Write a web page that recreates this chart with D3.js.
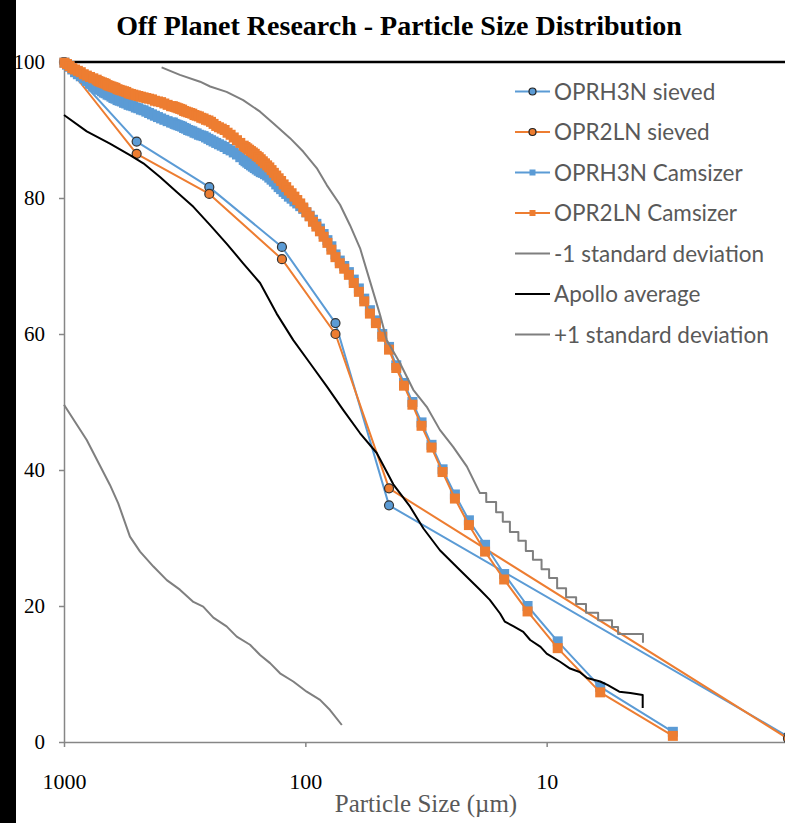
<!DOCTYPE html>
<html>
<head>
<meta charset="utf-8">
<script src="https://cdn.jsdelivr.net/npm/d3@7"></script>
<style>
body { margin: 0; background: #fff; }
.axis path, .axis line { stroke: #868686; stroke-width: 1.5; }
.axis text { font-family: "Liberation Serif", "Times New Roman", serif; fill: #000; }
</style>
</head>
<body>
<div id="chart"></div>
<script>
// sieve data (size in µm, cumulative % passing)
var sieveSizes = [1000, 500, 250, 125, 75, 45, 1];
var oprh3nSieved = [100, 88.3, 81.6, 72.8, 61.6, 34.8, 0.8];
var opr2lnSieved = [100, 86.5, 80.6, 71.0, 60.0, 37.3, 0.5];

// camsizer bins (µm)
var camSizes = [996, 972, 948, 924, 900, 876, 852, 828, 804, 780, 756, 732,
  720, 708, 696, 684, 672, 660, 648, 636, 624, 612, 600, 588, 576, 564, 552, 540, 528, 516, 504, 492, 480, 468, 456, 444, 432, 420, 408, 396, 384, 372, 360,
  354, 348, 342, 336, 330, 324, 318, 312, 306, 300, 294, 288, 282, 276, 270, 264, 258, 252, 246, 240, 234, 228, 222, 216, 210, 204, 198, 192, 186, 180,
  177, 174, 171, 168, 165, 162, 159, 156, 153, 150, 147, 144, 141, 138, 135, 132, 129, 126, 123, 120, 117, 114, 111, 108, 105, 102,
  99, 96, 93, 90, 87, 84, 81, 78, 75, 72, 69, 66, 63, 60, 57, 54, 51, 48, 45, 42, 39, 36, 33, 30, 27, 24, 21, 18, 15, 12, 9, 6, 3];
var oprh3nCam = [99.9, 99.6, 99.3, 98.9, 98.5, 98.2, 97.9, 97.6, 97.2, 96.8, 96.4, 96.2,
  96.0, 95.9, 95.7, 95.5, 95.4, 95.2, 95.1, 94.9, 94.7, 94.6, 94.4, 94.3, 94.2, 94.0, 93.9, 93.7, 93.6, 93.5, 93.3, 93.2, 93.0, 92.9, 92.7, 92.5, 92.3, 92.1, 91.9, 91.7, 91.5, 91.3, 91.1,
  91.1, 90.9, 90.8, 90.7, 90.6, 90.5, 90.3, 90.2, 90.0, 89.9, 89.8, 89.6, 89.5, 89.3, 89.2, 89.1, 88.9, 88.7, 88.5, 88.3, 88.1, 87.9, 87.7, 87.5, 87.2, 87.0, 86.7, 86.4, 86.0, 85.6,
  85.4, 85.2, 85.0, 84.8, 84.6, 84.4, 84.2, 84.0, 83.8, 83.7, 83.5, 83.3, 83.0, 82.7, 82.4, 82.0, 81.6, 81.3, 80.9, 80.6, 80.2, 79.9, 79.5, 79.2, 78.8, 78.4,
  77.9, 77.4, 76.8, 76.2, 75.5, 74.7, 73.8, 72.9, 71.7, 70.8, 70.0, 69.1, 68.0, 66.7, 65.2, 63.5, 62.0, 60.0, 58.1, 55.4, 52.8, 50.0, 47.0, 43.7, 40.1, 36.4, 32.6, 29.0, 24.7, 20.0, 14.8, 8.1, 1.5];
var opr2lnCam = [99.9, 99.7, 99.4, 99.1, 98.9, 98.7, 98.5, 98.2, 98.0, 97.8, 97.6, 97.4,
  97.2, 97.1, 97.0, 96.9, 96.8, 96.6, 96.5, 96.4, 96.3, 96.2, 96.0, 95.9, 95.8, 95.7, 95.6, 95.4, 95.3, 95.2, 95.1, 95.0, 94.9, 94.8, 94.7, 94.6, 94.5, 94.3, 94.2, 94.1, 93.9, 93.7, 93.5,
  93.5, 93.4, 93.3, 93.2, 93.1, 93.0, 92.8, 92.7, 92.6, 92.5, 92.4, 92.2, 92.1, 92.0, 91.8, 91.7, 91.5, 91.4, 91.2, 90.9, 90.6, 90.4, 90.2, 90.0, 89.6, 89.3, 88.9, 88.5, 88.1, 87.7,
  87.5, 87.3, 87.1, 86.9, 86.7, 86.5, 86.2, 86.0, 85.7, 85.4, 85.1, 84.8, 84.5, 84.1, 83.7, 83.3, 82.9, 82.5, 82.0, 81.6, 81.1, 80.7, 80.2, 79.7, 79.2, 78.6,
  77.9, 77.3, 76.5, 75.8, 75.1, 74.3, 73.4, 72.4, 71.3, 70.4, 69.6, 68.7, 67.5, 66.2, 64.8, 63.0, 61.6, 59.6, 57.7, 55.0, 52.4, 49.6, 46.5, 43.3, 39.7, 35.8, 31.9, 28.0, 23.9, 19.2, 13.8, 7.3, 0.9];

// Apollo lunar soil reference curves
var minusSizes = [1000, 805, 645, 596, 533, 484, 426, 375, 331, 291, 265, 240.5, 212, 192.4, 169.5, 154, 140, 127.3, 112.2, 98.7, 86.9, 79, 70.6];
var minusStd = [49.6, 44.4, 37.8, 35.1, 30.2, 28.0, 25.8, 23.8, 22.4, 20.6, 19.9, 18.3, 17.0, 15.5, 14.3, 12.8, 11.6, 10.1, 8.9, 7.4, 6.2, 4.7, 2.5];

var apolloSizes = [1000, 805, 645, 533, 469, 400, 341, 291, 248, 212, 181, 154, 131.5, 112.2, 95.6, 81.5, 69.6, 59.3, 50.6, 43.2, 36.8, 32.4,
  27.7, 22.9, 18.9, 17.2, 15.6, 14.9, 13.7, 12.5, 11.7, 10.6, 10.0, 8.8, 8.0, 7.3, 6.8, 6.0, 5.6, 5.0, 4.5, 4.0, 4.0];
var apolloAvg = [92.2, 89.8, 88.0, 86.3, 85.1, 83.1, 80.9, 78.7, 76.0, 73.3, 70.4, 67.5, 63.0, 59.1, 55.7, 52.3, 48.8, 45.4, 42.5, 37.9, 34.6, 31.4,
  28.2, 25.3, 22.4, 20.9, 18.9, 17.7, 17.0, 16.2, 15.0, 14.0, 13.0, 11.8, 10.8, 10.3, 9.4, 8.9, 8.4, 7.4, 7.2, 6.9, 5.0];

var plusSizes = [394, 331, 273, 248, 212, 181, 154, 135.8, 115.7, 101.9, 89.7, 81.5, 71.8, 65.3, 59.3, 53.9, 49.0, 46.0, 40.5, 35.7, 31.4, 27.7, 24.4, 21.4,
  18.9, 17.8, 17.8, 16.2, 16.2, 15.2, 15.2, 14.2, 14.2, 13.1, 13.1, 12.2, 12.2, 11.4, 11.4, 10.5, 10.5, 9.77, 9.77, 9.05, 9.05,
  8.31, 8.31, 7.55, 7.55, 6.87, 6.87, 6.12, 6.12, 5.36, 5.36, 5.06, 5.06, 3.99, 3.99];
var plusStd = [99.2, 98.1, 97.1, 96.4, 95.6, 94.4, 92.7, 91.0, 88.8, 86.8, 84.4, 81.9, 79.0, 76.0, 72.6, 67.7, 62.8, 59.1, 55.7, 51.8, 49.3, 45.9, 43.4, 40.5,
  36.6, 36.6, 35.3, 35.3, 33.8, 33.8, 32.4, 32.4, 30.9, 30.9, 29.6, 29.6, 28.1, 28.1, 26.8, 26.8, 25.4, 25.4, 24.1, 24.1, 22.6,
  22.6, 21.3, 21.3, 20.3, 20.3, 19.0, 19.0, 17.9, 17.9, 16.9, 16.9, 15.9, 15.9, 14.6];

var xTicks = [1000, 100, 10];
var yTicks = [0, 20, 40, 60, 80, 100];

var blue = "#5B9BD5", orange = "#ED7D31", gray = "#7F7F7F";

var legendItems = [
  {name: "OPRH3N sieved", color: blue, marker: "circle"},
  {name: "OPR2LN sieved", color: orange, marker: "circle"},
  {name: "OPRH3N Camsizer", color: blue, marker: "square"},
  {name: "OPR2LN Camsizer", color: orange, marker: "square"},
  {name: "-1 standard deviation", color: gray, marker: "none"},
  {name: "Apollo average", color: "#000", marker: "none"},
  {name: "+1 standard deviation", color: gray, marker: "none"}
];

var width = 785;
var height = 823;

var svg = d3.select("#chart").append("svg")
    .attr("width", width)
    .attr("height", height);

svg.append("rect").attr("width", width).attr("height", height).attr("fill", "#fff");
// dark strip along the left edge of the screenshot
svg.append("rect").attr("x", 0).attr("y", 0).attr("width", 16).attr("height", height).attr("fill", "#000");

var x = d3.scaleLog()
    .domain([1000, 1])
    .range([64, 788]);

var y = d3.scaleLinear()
    .domain([0, 100])
    .range([742, 62]);

// axes
var xAxis = d3.axisBottom(x)
    .tickValues(xTicks)
    .tickFormat(d3.format("d"))
    .tickSize(5)
    .tickSizeOuter(0)
    .tickPadding(26);

var gx = svg.append("g")
    .attr("class", "axis x")
    .attr("transform", "translate(0," + y(0) + ")")
    .call(xAxis);
gx.selectAll("text").style("font-size", "22px");

var yAxis = d3.axisLeft(y)
    .tickValues(yTicks)
    .tickSize(5)
    .tickSizeOuter(0)
    .tickPadding(14);

var gy = svg.append("g")
    .attr("class", "axis y")
    .attr("transform", "translate(" + x(1000) + ",0)")
    .call(yAxis);
gy.selectAll("text").style("font-size", "21px");

// black top border
svg.append("line")
    .attr("x1", x(1000) - 1).attr("x2", x(1))
    .attr("y1", y(100)).attr("y2", y(100))
    .attr("stroke", "#000")
    .attr("stroke-width", 2.5);

var line = d3.line()
    .x(function(d) { return x(d[0]); })
    .y(function(d) { return y(d[1]); });

function drawLine(sizes, values, color, w) {
    svg.append("path")
        .datum(d3.zip(sizes, values))
        .attr("d", line)
        .attr("fill", "none")
        .attr("stroke", color)
        .attr("stroke-width", w)
        .attr("stroke-linejoin", "round");
}

function drawCircles(sizes, values, color) {
    svg.append("g").selectAll("circle")
        .data(d3.zip(sizes, values))
        .enter().append("circle")
        .attr("cx", function(d) { return x(d[0]); })
        .attr("cy", function(d) { return y(d[1]); })
        .attr("r", 4.5)
        .attr("fill", color)
        .attr("stroke", "#333")
        .attr("stroke-width", 1.2);
}

function drawSquares(sizes, values, color) {
    var s = 10;
    svg.append("g").selectAll("rect")
        .data(d3.zip(sizes, values))
        .enter().append("rect")
        .attr("x", function(d) { return x(d[0]) - s / 2; })
        .attr("y", function(d) { return y(d[1]) - s / 2; })
        .attr("width", s)
        .attr("height", s)
        .attr("fill", color);
}

// series, in Excel drawing order
drawLine(sieveSizes, oprh3nSieved, blue, 2);
drawCircles(sieveSizes, oprh3nSieved, blue);
drawLine(sieveSizes, opr2lnSieved, orange, 2);
drawCircles(sieveSizes, opr2lnSieved, orange);

drawLine(camSizes, oprh3nCam, blue, 2);
drawSquares(camSizes, oprh3nCam, blue);
drawLine(camSizes, opr2lnCam, orange, 2);
drawSquares(camSizes, opr2lnCam, orange);

drawLine(minusSizes, minusStd, gray, 2);
drawLine(apolloSizes, apolloAvg, "#000", 2);
drawLine(plusSizes, plusStd, gray, 2);

// title
svg.append("text")
    .attr("x", 399)
    .attr("y", 35)
    .style("text-anchor", "middle")
    .style("font-family", "'Liberation Serif', 'Times New Roman', serif")
    .style("font-weight", "bold")
    .style("font-size", "28px")
    .text("Off Planet Research - Particle Size Distribution");

// x axis title
svg.append("text")
    .attr("x", (x(1000) + x(1)) / 2)
    .attr("y", 812)
    .style("text-anchor", "middle")
    .style("font-family", "'Liberation Serif', 'Times New Roman', serif")
    .style("font-size", "25px")
    .style("fill", "#595959")
    .text("Particle Size (\u00b5m)");

// legend
var legend = svg.append("g").attr("transform", "translate(515,91.5)");

var item = legend.selectAll("g")
    .data(legendItems)
    .enter().append("g")
    .attr("transform", function(d, i) { return "translate(0," + (i * 40.5) + ")"; });

item.append("line")
    .attr("x1", 0).attr("x2", 35)
    .attr("y1", 0).attr("y2", 0)
    .attr("stroke", function(d) { return d.color; })
    .attr("stroke-width", 2);

item.filter(function(d) { return d.marker == "circle"; })
    .append("circle")
    .attr("cx", 17.5).attr("cy", 0).attr("r", 3.5)
    .attr("fill", function(d) { return d.color; })
    .attr("stroke", "#222")
    .attr("stroke-width", 1.2);

item.filter(function(d) { return d.marker == "square"; })
    .append("rect")
    .attr("x", 14.5).attr("y", -3).attr("width", 6).attr("height", 6)
    .attr("fill", function(d) { return d.color; });

item.append("text")
    .attr("x", 39)
    .attr("y", 0)
    .attr("dy", "0.36em")
    .style("font-family", "Lato, 'Open Sans', sans-serif")
    .style("font-size", "22.5px")
    .style("fill", "#595959")
    .text(function(d) { return d.name; });
</script>
</body>
</html>
